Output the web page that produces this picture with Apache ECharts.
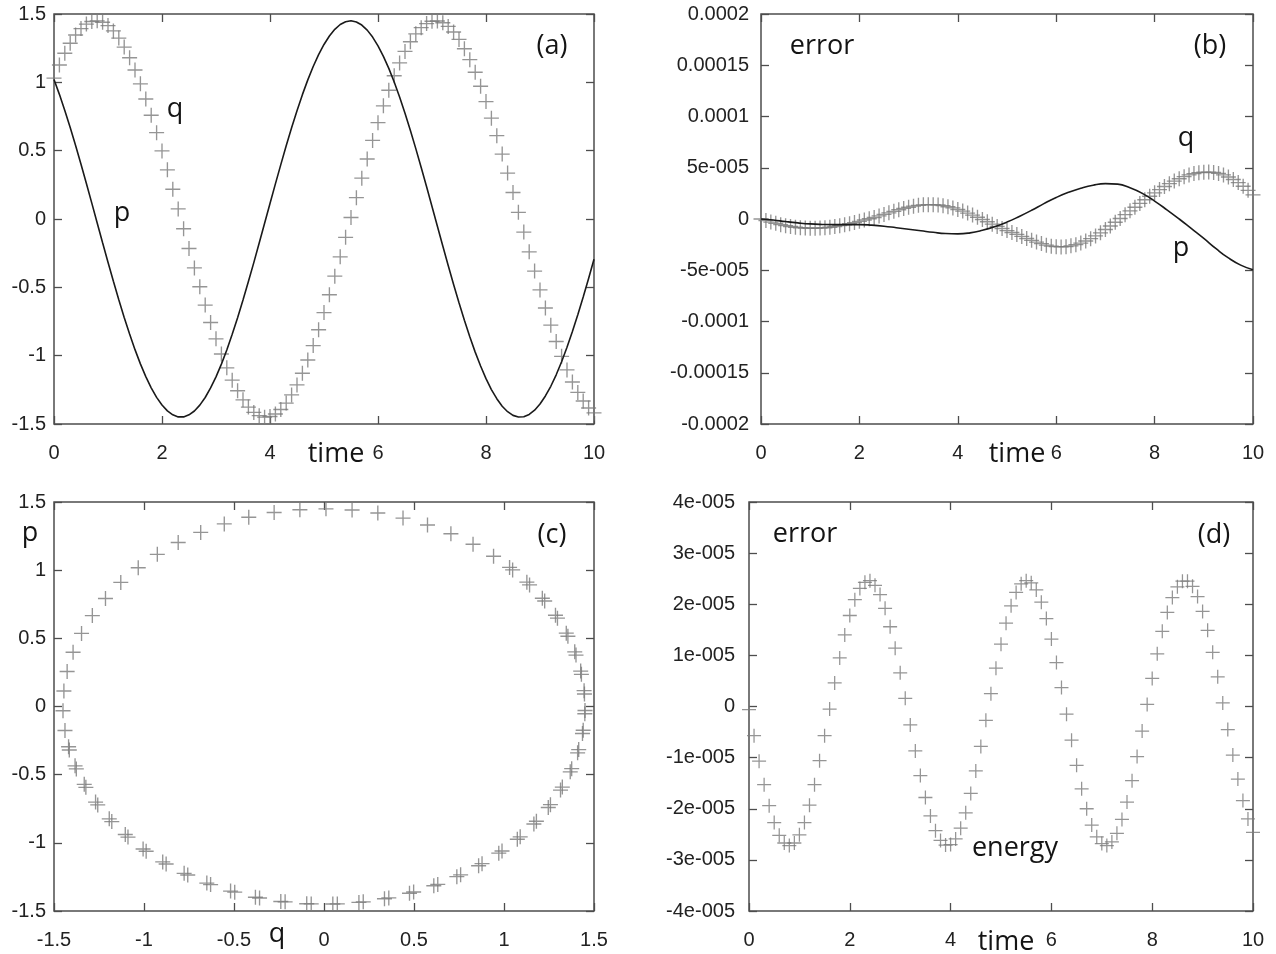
<!DOCTYPE html>
<html>
<head>
<meta charset="utf-8">
<script src="https://cdn.jsdelivr.net/npm/echarts@6/dist/echarts.min.js"></script>
<style>
html,body{margin:0;padding:0;background:#fff}
#main{width:1276px;height:954px}
</style>
</head>
<body>
<div id="main"></div>
<script>
// sample times of the integrator output
var time = [0,0.1,0.2,0.3,0.4,0.5,0.6,0.7,0.8,0.9,
	1,1.1,1.2,1.3,1.4,1.5,1.6,1.7,1.8,1.9,
	2,2.1,2.2,2.3,2.4,2.5,2.6,2.7,2.8,2.9,
	3,3.1,3.2,3.3,3.4,3.5,3.6,3.7,3.8,3.9,
	4,4.1,4.2,4.3,4.4,4.5,4.6,4.7,4.8,4.9,
	5,5.1,5.2,5.3,5.4,5.5,5.6,5.7,5.8,5.9,
	6,6.1,6.2,6.3,6.4,6.5,6.6,6.7,6.8,6.9,
	7,7.1,7.2,7.3,7.4,7.5,7.6,7.7,7.8,7.9,
	8,8.1,8.2,8.3,8.4,8.5,8.6,8.7,8.8,8.9,
	9,9.1,9.2,9.3,9.4,9.5,9.6,9.7,9.8,9.9,10];

var q = [1.031,1.127,1.213,1.286,1.346,1.393,1.426,1.445,1.450,1.440,
	1.415,1.376,1.324,1.258,1.180,1.090,0.989,0.878,0.759,0.632,
	0.498,0.360,0.218,0.074,-0.071,-0.216,-0.358,-0.496,-0.630,-0.757,
	-0.877,-0.988,-1.089,-1.179,-1.257,-1.323,-1.376,-1.415,-1.439,-1.450,
	-1.445,-1.427,-1.394,-1.347,-1.287,-1.214,-1.129,-1.032,-0.926,-0.810,
	-0.685,-0.554,-0.418,-0.277,-0.134,0.011,0.156,0.299,0.439,0.575,
	0.705,0.828,0.942,1.048,1.142,1.226,1.297,1.355,1.400,1.430,
	1.447,1.449,1.436,1.409,1.368,1.314,1.246,1.166,1.074,0.971,
	0.859,0.738,0.610,0.475,0.336,0.194,0.049,-0.096,-0.240,-0.381,
	-0.519,-0.651,-0.777,-0.896,-1.005,-1.104,-1.193,-1.269,-1.332,-1.383,
	-1.419];

var p = [1.020,0.912,0.794,0.669,0.538,0.401,0.260,0.116,-0.029,-0.174,
	-0.316,-0.456,-0.591,-0.720,-0.842,-0.956,-1.060,-1.153,-1.235,-1.305,
	-1.361,-1.404,-1.433,-1.448,-1.448,-1.433,-1.405,-1.362,-1.306,-1.236,
	-1.155,-1.062,-0.958,-0.844,-0.722,-0.593,-0.458,-0.319,-0.176,-0.031,
	0.114,0.257,0.398,0.536,0.667,0.792,0.910,1.018,1.116,1.203,
	1.277,1.339,1.388,1.423,1.443,1.450,1.441,1.419,1.382,1.331,
	1.267,1.190,1.102,1.002,0.892,0.774,0.648,0.515,0.377,0.236,
	0.092,-0.053,-0.198,-0.340,-0.479,-0.613,-0.741,-0.862,-0.974,-1.076,
	-1.168,-1.248,-1.315,-1.370,-1.410,-1.437,-1.449,-1.447,-1.430,-1.399,
	-1.354,-1.295,-1.224,-1.140,-1.045,-0.939,-0.824,-0.701,-0.571,-0.435,
	-0.295];

// errors below are in units of 1e-5
var qErr = [0,-0.15,-0.3,-0.42,-0.55,-0.65,-0.73,-0.8,-0.85,-0.88,
	-0.9,-0.9,-0.88,-0.85,-0.8,-0.73,-0.65,-0.56,-0.46,-0.35,
	-0.23,-0.1,0.02,0.15,0.3,0.45,0.6,0.75,0.9,1.03,
	1.15,1.25,1.33,1.38,1.4,1.4,1.37,1.3,1.2,1.08,
	0.93,0.77,0.58,0.38,0.17,-0.05,-0.27,-0.5,-0.72,-0.93,
	-1.13,-1.32,-1.5,-1.7,-1.9,-2.08,-2.25,-2.4,-2.55,-2.65,
	-2.7,-2.72,-2.7,-2.62,-2.5,-2.35,-2.15,-1.92,-1.65,-1.35,
	-1.02,-0.68,-0.32,0.05,0.42,0.8,1.15,1.52,1.88,2.22,
	2.55,2.87,3.17,3.45,3.7,3.93,4.13,4.3,4.43,4.52,
	4.57,4.58,4.54,4.45,4.3,4.1,3.85,3.55,3.2,2.8,
	2.35];

var errTime = [0,0.25,0.5,0.75,1,1.25,1.5,1.75,2,2.25,2.5,2.75,3,3.25,3.5,3.75,4,4.25,4.5,4.75,
	5,5.25,5.5,5.75,6,6.25,6.5,6.75,7,7.25,7.5,7.75,8,8.25,8.5,8.75,9,9.25,9.5,9.75,10];
var pErr = [0,-0.1,-0.25,-0.38,-0.48,-0.53,-0.55,-0.55,-0.55,-0.6,-0.7,-0.85,-1.0,-1.15,-1.3,-1.42,-1.45,-1.35,-1.1,-0.75,
	-0.3,0.25,0.85,1.5,2.1,2.6,3.0,3.3,3.45,3.4,3.05,2.5,1.75,0.9,0.0,-0.95,-1.9,-2.9,-3.8,-4.5,-4.95];

var energyErr = [-0.06,-0.57,-1.07,-1.53,-1.94,-2.27,-2.52,-2.67,-2.72,-2.67,
	-2.51,-2.27,-1.93,-1.53,-1.06,-0.57,-0.05,0.46,0.95,1.40,
	1.78,2.09,2.31,2.43,2.46,2.37,2.19,1.92,1.56,1.14,
	0.66,0.16,-0.36,-0.87,-1.35,-1.78,-2.14,-2.43,-2.62,-2.71,
	-2.70,-2.59,-2.38,-2.08,-1.70,-1.26,-0.78,-0.27,0.25,0.75,
	1.22,1.63,1.97,2.23,2.40,2.46,2.42,2.28,2.04,1.72,
	1.32,0.86,0.37,-0.15,-0.66,-1.15,-1.61,-2.00,-2.32,-2.55,
	-2.68,-2.72,-2.65,-2.48,-2.21,-1.87,-1.45,-0.98,-0.48,0.04,
	0.55,1.03,1.47,1.84,2.13,2.34,2.45,2.45,2.35,2.15,
	1.86,1.49,1.06,0.58,0.07,-0.45,-0.95,-1.42,-1.84,-2.20,
	-2.46];

var errTicks = ['-0.0002','-0.00015','-0.0001','-5e-005','0','5e-005','0.0001','0.00015','0.0002'];
var energyTicks = ['-4e-005','-3e-005','-2e-005','-1e-005','0','1e-005','2e-005','3e-005','4e-005'];

function pairs(xs, ys) {
	return xs.map(function (x, i) { return [x, ys[i]]; });
}

var frame = '#4d4d4d',
	gray = '#7a7a7a',
	ink = '#1a1a1a',
	plus = 'path://M9.1,0H10.9V20H9.1ZM0,9.1H20V10.9H0Z',
	noteFont = '27px "Open Sans"';

function axis(gridIndex, position, min, max, interval, label) {
	return {
		type: 'value', gridIndex: gridIndex, position: position,
		min: min, max: max, interval: interval,
		axisLine: {show: false, onZero: false},
		splitLine: {show: false},
		axisTick: {show: true, inside: true, length: 8, lineStyle: {color: frame, width: 1.3}},
		axisLabel: label ? Object.assign({
			show: true, hideOverlap: false, showMinLabel: true, showMaxLabel: true,
			fontFamily: 'Liberation Sans', fontSize: 20, color: '#222'
		}, label) : {show: false}
	};
}

function grid(left, top, width, height) {
	return {left: left, top: top, width: width, height: height, show: true,
		borderColor: frame, borderWidth: 1.5, outerBoundsMode: 'none'};
}

function note(text, x, y) {
	return {type: 'text', x: x, y: y, z: 100,
		style: {text: text, font: noteFont, fill: '#141414',
			textAlign: 'center', textVerticalAlign: 'middle', align: 'center', verticalAlign: 'middle'}};
}

var chart = echarts.init(document.getElementById('main'));

var option = {
	animation: false,
	backgroundColor: '#fff',
	grid: [grid(54, 14, 540, 410), grid(761, 14, 492, 410), grid(54, 502, 540, 409), grid(749, 502, 504, 409)],
	xAxis: [
		axis(0, 'bottom', 0, 10, 2, {margin: 19}), axis(0, 'top', 0, 10, 2, null),
		axis(1, 'bottom', 0, 10, 2, {margin: 19}), axis(1, 'top', 0, 10, 2, null),
		axis(2, 'bottom', -1.5, 1.5, 0.5, {margin: 19}), axis(2, 'top', -1.5, 1.5, 0.5, null),
		axis(3, 'bottom', 0, 10, 2, {margin: 19}), axis(3, 'top', 0, 10, 2, null)
	],
	yAxis: [
		axis(0, 'left', -1.5, 1.5, 0.5, {margin: 8}), axis(0, 'right', -1.5, 1.5, 0.5, null),
		axis(1, 'left', -20, 20, 5, {margin: 12, formatter: function (v) { return errTicks[Math.round((v + 20) / 5)]; }}),
		axis(1, 'right', -20, 20, 5, null),
		axis(2, 'left', -1.5, 1.5, 0.5, {margin: 8}), axis(2, 'right', -1.5, 1.5, 0.5, null),
		axis(3, 'left', -4, 4, 1, {margin: 14, formatter: function (v) { return energyTicks[Math.round(v + 4)]; }}),
		axis(3, 'right', -4, 4, 1, null)
	],
	series: [
		{type: 'scatter', xAxisIndex: 0, yAxisIndex: 0, data: pairs(time, q),
			symbol: plus, symbolSize: 15, itemStyle: {color: gray}, clip: false},
		{type: 'line', xAxisIndex: 0, yAxisIndex: 0, data: pairs(time, p), z: 5,
			symbol: 'none', lineStyle: {color: ink, width: 1.6}},
		{type: 'scatter', xAxisIndex: 2, yAxisIndex: 2, data: pairs(time, qErr),
			symbol: plus, symbolSize: 15, itemStyle: {color: gray}, clip: false},
		{type: 'line', xAxisIndex: 2, yAxisIndex: 2, data: pairs(errTime, pErr), z: 5,
			smooth: true, symbol: 'none', lineStyle: {color: ink, width: 1.6}},
		{type: 'scatter', xAxisIndex: 4, yAxisIndex: 4, data: pairs(q, p),
			symbol: plus, symbolSize: 15, itemStyle: {color: gray}, clip: false},
		{type: 'scatter', xAxisIndex: 6, yAxisIndex: 6, data: pairs(time, energyErr),
			symbol: plus, symbolSize: 14, itemStyle: {color: gray}, clip: false}
	],
	graphic: [
		note('(a)', 552, 46), note('q', 175, 109), note('p', 122, 213), note('time', 336, 454),
		note('(b)', 1210, 46), note('error', 822, 46), note('q', 1186, 138), note('p', 1181, 248), note('time', 1017, 454),
		note('(c)', 552, 535), note('p', 30, 533), note('q', 277, 934),
		note('(d)', 1214, 535), note('error', 805, 534), note('energy', 1015, 848), note('time', 1006, 942)
	]
};

chart.setOption(option);
window.addEventListener('resize', chart.resize);
</script>
</body>
</html>
